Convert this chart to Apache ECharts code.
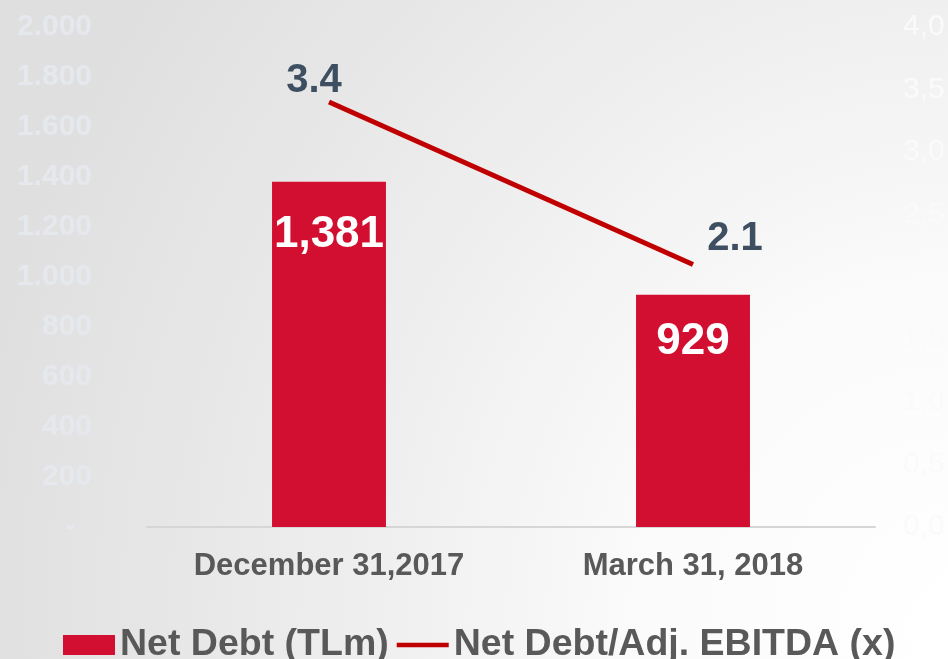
<!DOCTYPE html>
<html>
<head>
<meta charset="utf-8">
<script src="https://cdn.jsdelivr.net/npm/echarts@6/dist/echarts.min.js"></script>
<style>
html,body{margin:0;padding:0;}
#chart{width:948px;height:659px;background:radial-gradient(1000px 1100px at 100% 95%, #ffffff 0%, #fbfbfb 30%, #f0f0f0 55%, #e6e6e6 80%, #dfdfdf 100%);}
</style>
</head>
<body>
<div id="chart"></div>
<script>
var categories = ['December 31,2017', 'March 31, 2018'];
var netDebt = [1381, 929];
var leverage = [3.4, 2.1];
var seriesNames = ['Net Debt (TLm)', 'Net Debt/Adj. EBITDA (x)'];

var chart = echarts.init(document.getElementById('chart'), null, {renderer: 'canvas'});
var FONT = "'Liberation Sans', Arial, sans-serif";
var lineLabelOffsets = [[-15, 4], [42, -1]];
var barLabelDist = [31, 25];

var option = {
  backgroundColor: 'transparent',
  animation: false,
  grid: {left: 147, right: 73, top: 27, bottom: 132, containLabel: false},
  legend: {
    left: 58, top: 621,
    itemWidth: 52, itemHeight: 20, itemGap: 8,
    textStyle: {fontFamily: FONT, fontWeight: 'bold', fontSize: 37.5, color: '#595959'},
    data: [
      {name: seriesNames[0], icon: 'rect'},
      {name: seriesNames[1], icon: 'path://M0,0 L58,0 L58,5 L0,5 Z'}
    ]
  },
  xAxis: {
    type: 'category',
    data: categories,
    axisLine: {lineStyle: {color: '#d6d6d6', width: 2}},
    axisTick: {show: false},
    axisLabel: {fontFamily: FONT, fontWeight: 'bold', fontSize: 31, color: '#595959', margin: 24}
  },
  yAxis: [
    {
      type: 'value', min: 0, max: 2000, interval: 200,
      splitLine: {show: false},
      axisLine: {show: false}, axisTick: {show: false},
      axisLabel: {
        fontFamily: FONT, fontWeight: 'bold', fontSize: 30, color: '#e5e8ed', margin: 55,
        formatter: function (v) {
          if (v === 0) return '-\u2007';
          return v >= 1000 ? Math.floor(v / 1000) + '.' + String(v % 1000).padStart(3, '0') : String(v);
        }
      }
    },
    {
      type: 'value', min: 0, max: 4, interval: 0.5,
      splitLine: {show: false},
      axisLine: {show: false}, axisTick: {show: false},
      axisLabel: {
        fontFamily: FONT, fontSize: 30, color: '#fafafa', margin: 28,
        formatter: function (v) { return v.toFixed(1).replace('.', ','); }
      }
    }
  ],
  series: [
    {
      name: seriesNames[0], type: 'bar', yAxisIndex: 0,
      barWidth: '31.3%',
      itemStyle: {color: '#d20f30'},
      data: netDebt.map(function (v, i) {
        return {value: v, label: {distance: barLabelDist[i]}};
      }),
      label: {
        show: true, position: 'insideTop',
        fontFamily: FONT, fontWeight: 'bold', fontSize: 44, color: '#ffffff',
        formatter: function (p) { return p.value.toLocaleString('en-US'); }
      }
    },
    {
      name: seriesNames[1], type: 'line', yAxisIndex: 1,
      showSymbol: true, symbol: 'circle', symbolSize: 0.01,
      lineStyle: {color: '#c00000', width: 5},
      itemStyle: {color: '#c00000'},
      data: leverage.map(function (v, i) {
        return {value: v, label: {offset: lineLabelOffsets[i]}};
      }),
      label: {
        show: true, position: 'top',
        fontFamily: FONT, fontWeight: 'bold', fontSize: 40, color: '#3f4f62',
        formatter: function (p) { return p.value.toFixed(1); }
      }
    }
  ]
};
chart.setOption(option);
</script>
</body>
</html>
